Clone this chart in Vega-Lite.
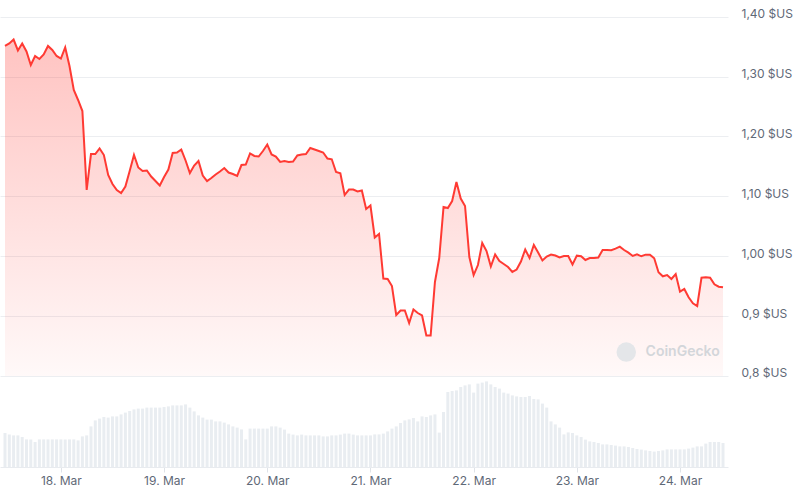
{
"$schema": "https://vega.github.io/schema/vega-lite/v6.json",
"width": 728, "height": 467,
"autosize": {"type": "none"},
"padding": {"left": 0, "top": 0, "right": 68, "bottom": 23},
"background": "white",
"config": {"view": {"stroke": null}, "font": "Inter"},
"datasets": {
"series": [
{"t":"2025-03-17T11:00Z","p":1.3511,"v":17.0},
{"t":"2025-03-17T12:00Z","p":1.3553,"v":16.2},
{"t":"2025-03-17T13:00Z","p":1.3619,"v":15.8},
{"t":"2025-03-17T14:00Z","p":1.3436,"v":15.8},
{"t":"2025-03-17T15:00Z","p":1.3553,"v":15.0},
{"t":"2025-03-17T16:00Z","p":1.3419,"v":13.8},
{"t":"2025-03-17T17:00Z","p":1.3193,"v":13.8},
{"t":"2025-03-17T18:00Z","p":1.3344,"v":12.5},
{"t":"2025-03-17T19:00Z","p":1.3294,"v":13.8},
{"t":"2025-03-17T20:00Z","p":1.3369,"v":13.8},
{"t":"2025-03-17T21:00Z","p":1.3511,"v":13.8},
{"t":"2025-03-17T22:00Z","p":1.3444,"v":13.8},
{"t":"2025-03-17T23:00Z","p":1.3344,"v":13.8},
{"t":"2025-03-18T00:00Z","p":1.3302,"v":13.8},
{"t":"2025-03-18T01:00Z","p":1.3486,"v":13.8},
{"t":"2025-03-18T02:00Z","p":1.3177,"v":13.8},
{"t":"2025-03-18T03:00Z","p":1.2776,"v":13.8},
{"t":"2025-03-18T04:00Z","p":1.2609,"v":13.3},
{"t":"2025-03-18T05:00Z","p":1.2425,"v":15.3},
{"t":"2025-03-18T06:00Z","p":1.1106,"v":15.8},
{"t":"2025-03-18T07:00Z","p":1.1707,"v":20.3},
{"t":"2025-03-18T08:00Z","p":1.1707,"v":23.3},
{"t":"2025-03-18T09:00Z","p":1.1799,"v":24.2},
{"t":"2025-03-18T10:00Z","p":1.1690,"v":25.0},
{"t":"2025-03-18T11:00Z","p":1.1356,"v":24.7},
{"t":"2025-03-18T12:00Z","p":1.1206,"v":25.3},
{"t":"2025-03-18T13:00Z","p":1.1106,"v":25.3},
{"t":"2025-03-18T14:00Z","p":1.1056,"v":26.3},
{"t":"2025-03-18T15:00Z","p":1.1164,"v":27.2},
{"t":"2025-03-18T16:00Z","p":1.1423,"v":28.0},
{"t":"2025-03-18T17:00Z","p":1.1690,"v":28.8},
{"t":"2025-03-18T18:00Z","p":1.1482,"v":29.2},
{"t":"2025-03-18T19:00Z","p":1.1423,"v":29.2},
{"t":"2025-03-18T20:00Z","p":1.1432,"v":29.7},
{"t":"2025-03-18T21:00Z","p":1.1331,"v":29.7},
{"t":"2025-03-18T22:00Z","p":1.1256,"v":29.7},
{"t":"2025-03-18T23:00Z","p":1.1181,"v":29.7},
{"t":"2025-03-19T00:00Z","p":1.1323,"v":30.0},
{"t":"2025-03-19T01:00Z","p":1.1448,"v":30.3},
{"t":"2025-03-19T02:00Z","p":1.1724,"v":30.8},
{"t":"2025-03-19T03:00Z","p":1.1732,"v":30.8},
{"t":"2025-03-19T04:00Z","p":1.1782,"v":30.8},
{"t":"2025-03-19T05:00Z","p":1.1599,"v":31.3},
{"t":"2025-03-19T06:00Z","p":1.1390,"v":29.7},
{"t":"2025-03-19T07:00Z","p":1.1515,"v":27.8},
{"t":"2025-03-19T08:00Z","p":1.1590,"v":25.8},
{"t":"2025-03-19T09:00Z","p":1.1348,"v":24.7},
{"t":"2025-03-19T10:00Z","p":1.1256,"v":23.7},
{"t":"2025-03-19T11:00Z","p":1.1306,"v":23.7},
{"t":"2025-03-19T12:00Z","p":1.1365,"v":22.8},
{"t":"2025-03-19T13:00Z","p":1.1415,"v":22.8},
{"t":"2025-03-19T14:00Z","p":1.1473,"v":22.2},
{"t":"2025-03-19T15:00Z","p":1.1398,"v":21.3},
{"t":"2025-03-19T16:00Z","p":1.1373,"v":20.3},
{"t":"2025-03-19T17:00Z","p":1.1340,"v":19.7},
{"t":"2025-03-19T18:00Z","p":1.1523,"v":18.8},
{"t":"2025-03-19T19:00Z","p":1.1532,"v":13.8},
{"t":"2025-03-19T20:00Z","p":1.1716,"v":19.2},
{"t":"2025-03-19T21:00Z","p":1.1674,"v":19.2},
{"t":"2025-03-19T22:00Z","p":1.1665,"v":19.2},
{"t":"2025-03-19T23:00Z","p":1.1757,"v":19.2},
{"t":"2025-03-20T00:00Z","p":1.1866,"v":19.2},
{"t":"2025-03-20T01:00Z","p":1.1699,"v":20.3},
{"t":"2025-03-20T02:00Z","p":1.1665,"v":20.3},
{"t":"2025-03-20T03:00Z","p":1.1574,"v":19.7},
{"t":"2025-03-20T04:00Z","p":1.1590,"v":18.7},
{"t":"2025-03-20T05:00Z","p":1.1574,"v":16.7},
{"t":"2025-03-20T06:00Z","p":1.1582,"v":16.2},
{"t":"2025-03-20T07:00Z","p":1.1682,"v":15.8},
{"t":"2025-03-20T08:00Z","p":1.1699,"v":16.2},
{"t":"2025-03-20T09:00Z","p":1.1707,"v":15.8},
{"t":"2025-03-20T10:00Z","p":1.1807,"v":15.8},
{"t":"2025-03-20T11:00Z","p":1.1782,"v":15.8},
{"t":"2025-03-20T12:00Z","p":1.1757,"v":15.8},
{"t":"2025-03-20T13:00Z","p":1.1732,"v":15.3},
{"t":"2025-03-20T14:00Z","p":1.1632,"v":15.3},
{"t":"2025-03-20T15:00Z","p":1.1619,"v":15.8},
{"t":"2025-03-20T16:00Z","p":1.1407,"v":15.8},
{"t":"2025-03-20T17:00Z","p":1.1385,"v":16.2},
{"t":"2025-03-20T18:00Z","p":1.1022,"v":16.7},
{"t":"2025-03-20T19:00Z","p":1.1114,"v":16.7},
{"t":"2025-03-20T20:00Z","p":1.1114,"v":16.2},
{"t":"2025-03-20T21:00Z","p":1.1081,"v":15.8},
{"t":"2025-03-20T22:00Z","p":1.1098,"v":15.8},
{"t":"2025-03-20T23:00Z","p":1.0789,"v":15.8},
{"t":"2025-03-21T00:00Z","p":1.0847,"v":15.8},
{"t":"2025-03-21T01:00Z","p":1.0313,"v":16.3},
{"t":"2025-03-21T02:00Z","p":1.0371,"v":16.3},
{"t":"2025-03-21T03:00Z","p":0.9628,"v":16.7},
{"t":"2025-03-21T04:00Z","p":0.9620,"v":17.8},
{"t":"2025-03-21T05:00Z","p":0.9503,"v":19.2},
{"t":"2025-03-21T06:00Z","p":0.9018,"v":20.3},
{"t":"2025-03-21T07:00Z","p":0.9094,"v":22.0},
{"t":"2025-03-21T08:00Z","p":0.9094,"v":23.3},
{"t":"2025-03-21T09:00Z","p":0.8885,"v":23.8},
{"t":"2025-03-21T10:00Z","p":0.9110,"v":24.5},
{"t":"2025-03-21T11:00Z","p":0.9052,"v":22.8},
{"t":"2025-03-21T12:00Z","p":0.9010,"v":25.3},
{"t":"2025-03-21T13:00Z","p":0.8676,"v":25.0},
{"t":"2025-03-21T14:00Z","p":0.8676,"v":25.8},
{"t":"2025-03-21T15:00Z","p":0.9570,"v":26.3},
{"t":"2025-03-21T16:00Z","p":0.9970,"v":17.2},
{"t":"2025-03-21T17:00Z","p":1.0822,"v":27.5},
{"t":"2025-03-21T18:00Z","p":1.0805,"v":37.5},
{"t":"2025-03-21T19:00Z","p":1.0922,"v":38.0},
{"t":"2025-03-21T20:00Z","p":1.1240,"v":38.3},
{"t":"2025-03-21T21:00Z","p":1.0964,"v":40.0},
{"t":"2025-03-21T22:00Z","p":1.0839,"v":40.8},
{"t":"2025-03-21T23:00Z","p":0.9987,"v":41.3},
{"t":"2025-03-22T00:00Z","p":0.9686,"v":37.2},
{"t":"2025-03-22T01:00Z","p":0.9853,"v":41.7},
{"t":"2025-03-22T02:00Z","p":1.0221,"v":42.2},
{"t":"2025-03-22T03:00Z","p":1.0087,"v":42.8},
{"t":"2025-03-22T04:00Z","p":0.9828,"v":41.3},
{"t":"2025-03-22T05:00Z","p":1.0029,"v":40.0},
{"t":"2025-03-22T06:00Z","p":0.9920,"v":39.2},
{"t":"2025-03-22T07:00Z","p":0.9870,"v":37.2},
{"t":"2025-03-22T08:00Z","p":0.9820,"v":36.7},
{"t":"2025-03-22T09:00Z","p":0.9737,"v":35.8},
{"t":"2025-03-22T10:00Z","p":0.9778,"v":35.3},
{"t":"2025-03-22T11:00Z","p":0.9912,"v":35.0},
{"t":"2025-03-22T12:00Z","p":1.0112,"v":35.0},
{"t":"2025-03-22T13:00Z","p":0.9970,"v":35.5},
{"t":"2025-03-22T14:00Z","p":1.0187,"v":34.0},
{"t":"2025-03-22T15:00Z","p":1.0062,"v":33.8},
{"t":"2025-03-22T16:00Z","p":0.9929,"v":31.7},
{"t":"2025-03-22T17:00Z","p":0.9995,"v":29.7},
{"t":"2025-03-22T18:00Z","p":1.0029,"v":22.8},
{"t":"2025-03-22T19:00Z","p":1.0012,"v":21.3},
{"t":"2025-03-22T20:00Z","p":0.9979,"v":19.7},
{"t":"2025-03-22T21:00Z","p":1.0004,"v":16.3},
{"t":"2025-03-22T22:00Z","p":1.0004,"v":17.3},
{"t":"2025-03-22T23:00Z","p":0.9862,"v":17.0},
{"t":"2025-03-23T00:00Z","p":1.0009,"v":15.8},
{"t":"2025-03-23T01:00Z","p":0.9999,"v":15.0},
{"t":"2025-03-23T02:00Z","p":0.9937,"v":13.7},
{"t":"2025-03-23T03:00Z","p":0.9970,"v":12.8},
{"t":"2025-03-23T04:00Z","p":0.9970,"v":12.5},
{"t":"2025-03-23T05:00Z","p":0.9979,"v":12.0},
{"t":"2025-03-23T06:00Z","p":1.0104,"v":11.3},
{"t":"2025-03-23T07:00Z","p":1.0104,"v":11.3},
{"t":"2025-03-23T08:00Z","p":1.0099,"v":11.0},
{"t":"2025-03-23T09:00Z","p":1.0126,"v":10.7},
{"t":"2025-03-23T10:00Z","p":1.0159,"v":10.3},
{"t":"2025-03-23T11:00Z","p":1.0104,"v":10.3},
{"t":"2025-03-23T12:00Z","p":1.0059,"v":10.0},
{"t":"2025-03-23T13:00Z","p":1.0004,"v":9.5},
{"t":"2025-03-23T14:00Z","p":1.0032,"v":9.0},
{"t":"2025-03-23T15:00Z","p":0.9999,"v":8.7},
{"t":"2025-03-23T16:00Z","p":1.0026,"v":8.3},
{"t":"2025-03-23T17:00Z","p":1.0026,"v":8.0},
{"t":"2025-03-23T18:00Z","p":0.9965,"v":7.7},
{"t":"2025-03-23T19:00Z","p":0.9732,"v":8.0},
{"t":"2025-03-23T20:00Z","p":0.9665,"v":8.3},
{"t":"2025-03-23T21:00Z","p":0.9686,"v":8.8},
{"t":"2025-03-23T22:00Z","p":0.9620,"v":8.8},
{"t":"2025-03-23T23:00Z","p":0.9703,"v":8.8},
{"t":"2025-03-24T00:00Z","p":0.9408,"v":8.8},
{"t":"2025-03-24T01:00Z","p":0.9453,"v":8.8},
{"t":"2025-03-24T02:00Z","p":0.9314,"v":9.2},
{"t":"2025-03-24T03:00Z","p":0.9214,"v":9.7},
{"t":"2025-03-24T04:00Z","p":0.9169,"v":10.3},
{"t":"2025-03-24T05:00Z","p":0.9641,"v":10.3},
{"t":"2025-03-24T06:00Z","p":0.9648,"v":11.7},
{"t":"2025-03-24T07:00Z","p":0.9641,"v":12.5},
{"t":"2025-03-24T08:00Z","p":0.9531,"v":12.5},
{"t":"2025-03-24T09:00Z","p":0.9491,"v":12.5},
{"t":"2025-03-24T10:00Z","p":0.9481,"v":12.0}
],
"watermark": [{"t":"2025-03-23T16:00Z","p":0.84,"label":"CoinGecko"}],
"logo": [{"t":"2025-03-23T11:30Z","p":0.84}]
},
"encoding": {
  "x": {"field": "t", "type": "temporal",
    "scale": {"type": "utc", "domain": [{"year":2025,"month":3,"date":17,"hours":11,"utc":true},{"year":2025,"month":3,"date":24,"hours":10,"utc":true}]},
    "axis": {"title": null, "grid": false,
      "labelExpr": "utcFormat(datum.value, '%d. %b')",
      "values": [{"year":2025,"month":3,"date":18,"utc":true},{"year":2025,"month":3,"date":19,"utc":true},{"year":2025,"month":3,"date":20,"utc":true},{"year":2025,"month":3,"date":21,"utc":true},{"year":2025,"month":3,"date":22,"utc":true},{"year":2025,"month":3,"date":23,"utc":true},{"year":2025,"month":3,"date":24,"utc":true}],
      "labelFontSize": 12, "labelColor": "#5f6977", "labelFont": "Inter", "labelPadding": 3,
      "tickColor": "#dfe3e8", "tickSize": 5, "domainColor": "#e8ebef", "labelOverlap": false, "labelFlush": false}}
},
"layer": [
  {"data": {"name": "series"},
   "mark": {"type": "bar", "size": 3, "color": "#e9edf1"},
   "encoding": {"y": {"field": "v", "type": "quantitative", "scale": {"domain": [0, 233.5], "nice": false}, "axis": null}}},
  {"encoding": {"y": {"field": "p", "type": "quantitative",
      "scale": {"domain": [0.648, 1.4279], "nice": false, "zero": false},
      "axis": {"orient": "right", "title": null, "values": [0.8, 0.9, 1.0, 1.1, 1.2, 1.3, 1.4],
        "labelExpr": "datum.value < 0.95 ? replace(format(datum.value, '.1f'), '.', ',') + ' $US' : replace(format(datum.value, '.2f'), '.', ',') + ' $US'",
        "grid": true, "gridColor": "#eceef1", "domain": false, "ticks": false,
        "labelPadding": 13, "labelFontSize": 12, "labelColor": "#5f6977", "labelFont": "Inter", "labelOffset": -3}}},
   "layer": [
     {"data": {"name": "series"},
      "mark": {"type": "area", "color": {"gradient": "linear", "x1": 0, "y1": 0, "x2": 0, "y2": 1,
        "stops": [{"offset": 0, "color": "rgba(255,58,51,0.30)"}, {"offset": 1, "color": "rgba(255,58,51,0.03)"}]}},
      "encoding": {"y2": {"datum": 0.8}}},
     {"data": {"name": "series"},
      "mark": {"type": "line", "color": "#ff3a33", "strokeWidth": 2}},
     {"data": {"name": "logo"},
      "mark": {"type": "point", "shape": "circle", "filled": true, "size": 380, "color": "#e4e6e9", "opacity": 1}},
     {"data": {"name": "watermark"},
      "mark": {"type": "text", "align": "left", "baseline": "middle", "fontSize": 14, "fontWeight": 600, "color": "#d3d6da"},
      "encoding": {"text": {"field": "label"}}}
   ]}
],
"resolve": {"scale": {"y": "independent"}}
}
